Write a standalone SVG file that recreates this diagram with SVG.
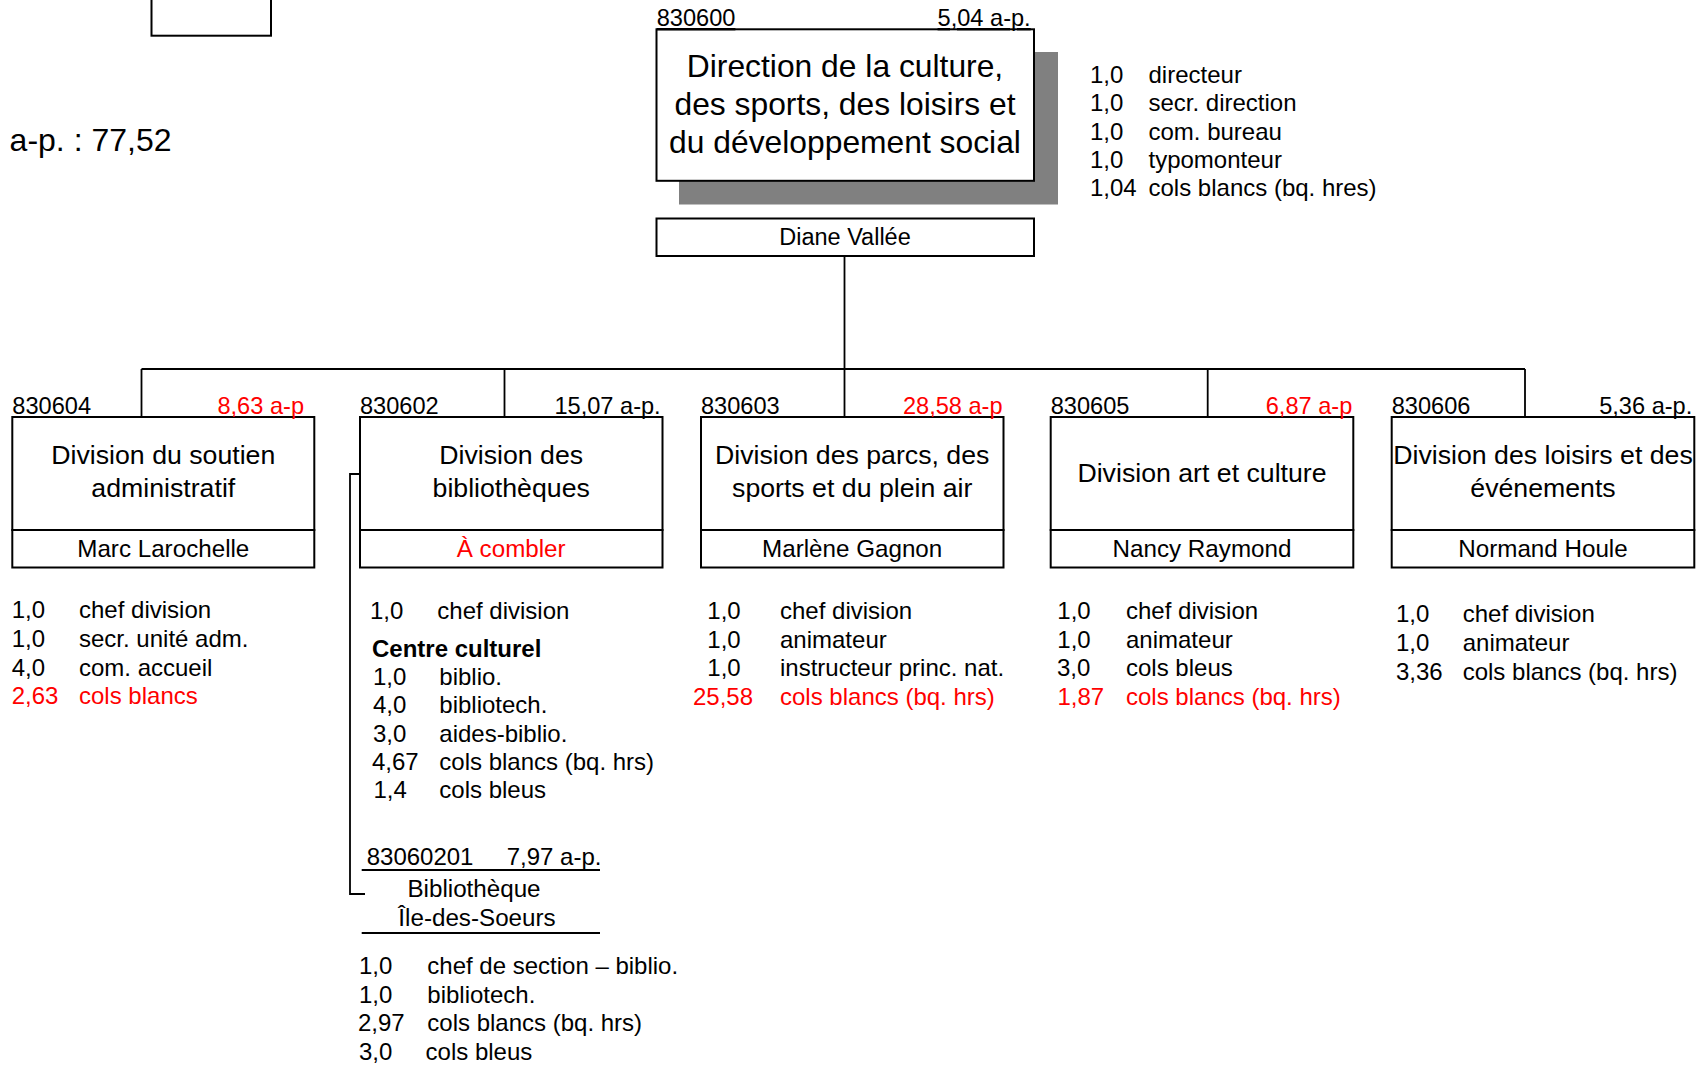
<svg xmlns="http://www.w3.org/2000/svg" width="1707" height="1065" viewBox="0 0 1707 1065">
<style>
text{font-family:"Liberation Sans",Arial,sans-serif;fill:#000;}
.t{font-size:24px;}
.lbl{font-size:23.6px;}
.ttl{font-size:26.7px;text-anchor:middle;}
.nm{font-size:24.2px;text-anchor:middle;}
.red{fill:#ff0000;}
.r{text-anchor:end;}
.box{fill:#fff;stroke:#000;stroke-width:2;}
.ln{fill:none;stroke:#000;stroke-width:1.8;}
.b{font-weight:bold;}
</style>
<rect fill="#fff" x="0" y="0" width="1707" height="1065"/>
<rect class="box" x="151.5" y="-10" width="119.5" height="45.7"/>
<text x="9.6" y="151" style="font-size:32px">a-p. : 77,52</text>

<g id="connectors">
<path class="ln" d="M844.5 256 V369 M141.5 369 H1525 M141.5 369 V417 M504.5 369 V417 M844.5 369 V417 M1207.7 369 V417 M1525 369 V417"/>
<path class="ln" d="M360 474 H350 V894 H365"/>
</g>

<g id="n830600">
<rect fill="#808080" x="679" y="52" width="379" height="152.5"/>
<rect class="box" x="656.5" y="29.3" width="377.5" height="151.5"/>
<text class="lbl" x="656.7" y="26" text-decoration="underline">830600</text>
<text class="lbl r" x="1030.7" y="26" text-decoration="underline">5,04 a-p.</text>
<text style="font-size:31.8px;text-anchor:middle" x="845" y="77">Direction de la culture,</text>
<text style="font-size:31.8px;text-anchor:middle" x="845" y="115">des sports, des loisirs et</text>
<text style="font-size:31.8px;text-anchor:middle" x="845" y="153">du développement social</text>
<rect class="box" x="656.5" y="218.5" width="377.5" height="37.5"/>
<text class="nm" x="845" y="245" style="font-size:23.5px">Diane Vallée</text>
<text class="t" x="1090" y="83">1,0</text><text class="t" x="1148.5" y="83">directeur</text>
<text class="t" x="1090" y="111">1,0</text><text class="t" x="1148.5" y="111">secr. direction</text>
<text class="t" x="1090" y="139.5">1,0</text><text class="t" x="1148.5" y="139.5">com. bureau</text>
<text class="t" x="1090" y="167.5">1,0</text><text class="t" x="1148.5" y="167.5">typomonteur</text>
<text class="t" x="1090" y="196">1,04</text><text class="t" x="1148.5" y="196">cols blancs (bq. hres)</text>
</g>

<g id="n830604">
<rect class="box" x="12.3" y="417" width="302" height="113"/>
<rect class="box" x="12.3" y="530" width="302" height="37.5"/>
<text class="lbl" x="12.3" y="413.5">830604</text>
<text class="lbl r red" x="304" y="413.5">8,63 a-p</text>
<text class="ttl" x="163.3" y="464.3">Division du soutien</text>
<text class="ttl" x="163.3" y="496.7">administratif</text>
<text class="nm" x="163.3" y="556.5">Marc Larochelle</text>
<text class="t" x="11.7" y="618">1,0</text><text class="t" x="79" y="618">chef division</text>
<text class="t" x="11.7" y="647">1,0</text><text class="t" x="79" y="647">secr. unité adm.</text>
<text class="t" x="11.7" y="675.5">4,0</text><text class="t" x="79" y="675.5">com. accueil</text>
<text class="t red" x="11.7" y="704">2,63</text><text class="t red" x="79" y="704">cols blancs</text>
</g>

<g id="n830602">
<rect class="box" x="360" y="417" width="302.5" height="113"/>
<rect class="box" x="360" y="530" width="302.5" height="37.5"/>
<text class="lbl" x="360" y="413.5">830602</text>
<text class="lbl r" x="660.7" y="413.5">15,07 a-p.</text>
<text class="ttl" x="511.2" y="464.3">Division des</text>
<text class="ttl" x="511.2" y="496.7">bibliothèques</text>
<text class="nm red" x="511.2" y="556.5">À combler</text>
<text class="t" x="370" y="618.5">1,0</text><text class="t" x="437.3" y="618.5">chef division</text>
<text class="t b" x="372" y="656.5">Centre culturel</text>
<text class="t" x="373" y="685">1,0</text><text class="t" x="439.3" y="685">biblio.</text>
<text class="t" x="373" y="713">4,0</text><text class="t" x="439.3" y="713">bibliotech.</text>
<text class="t" x="373" y="741.5">3,0</text><text class="t" x="439.3" y="741.5">aides-biblio.</text>
<text class="t" x="372" y="770">4,67</text><text class="t" x="439.3" y="770">cols blancs (bq. hrs)</text>
<text class="t" x="373.5" y="798">1,4</text><text class="t" x="439.3" y="798">cols bleus</text>
</g>

<g id="n83060201">
<text class="t" x="366.7" y="865">83060201</text>
<text class="t" x="506.7" y="865">7,97 a-p.</text>
<line class="ln" x1="361.7" y1="870" x2="600" y2="870"/>
<text class="nm" x="474" y="896.5">Bibliothèque</text>
<text class="nm" x="477" y="925.5">Île-des-Soeurs</text>
<line class="ln" x1="361.7" y1="933" x2="600" y2="933"/>
<text class="t" x="359" y="974">1,0</text><text class="t" x="427.3" y="974">chef de section – biblio.</text>
<text class="t" x="359" y="1002.5">1,0</text><text class="t" x="427.3" y="1002.5">bibliotech.</text>
<text class="t" x="358" y="1031">2,97</text><text class="t" x="427.3" y="1031">cols blancs (bq. hrs)</text>
<text class="t" x="359" y="1060">3,0</text><text class="t" x="425.6" y="1060">cols bleus</text>
</g>

<g id="n830603">
<rect class="box" x="701" y="417" width="302.5" height="113"/>
<rect class="box" x="701" y="530" width="302.5" height="37.5"/>
<text class="lbl" x="701" y="413.5">830603</text>
<text class="lbl r red" x="1002.6" y="413.5">28,58 a-p</text>
<text class="ttl" x="852.2" y="464.3">Division des parcs, des</text>
<text class="ttl" x="852.2" y="496.7">sports et du plein air</text>
<text class="nm" x="852.2" y="556.5">Marlène Gagnon</text>
<text class="t" x="707.3" y="618.5">1,0</text><text class="t" x="780" y="618.5">chef division</text>
<text class="t" x="707.3" y="647.5">1,0</text><text class="t" x="780" y="647.5">animateur</text>
<text class="t" x="707.3" y="676">1,0</text><text class="t" x="780" y="676">instructeur princ. nat.</text>
<text class="t red" x="693" y="704.5">25,58</text><text class="t red" x="780" y="704.5">cols blancs (bq. hrs)</text>
</g>

<g id="n830605">
<rect class="box" x="1050.7" y="417" width="302.6" height="113"/>
<rect class="box" x="1050.7" y="530" width="302.6" height="37.5"/>
<text class="lbl" x="1050.7" y="413.5">830605</text>
<text class="lbl r red" x="1352.3" y="413.5">6,87 a-p</text>
<text class="ttl" x="1202" y="482">Division art et culture</text>
<text class="nm" x="1202" y="556.5">Nancy Raymond</text>
<text class="t" x="1057.3" y="618.5">1,0</text><text class="t" x="1126" y="618.5">chef division</text>
<text class="t" x="1057.3" y="647.5">1,0</text><text class="t" x="1126" y="647.5">animateur</text>
<text class="t" x="1057" y="676">3,0</text><text class="t" x="1126" y="676">cols bleus</text>
<text class="t red" x="1057.5" y="704.5">1,87</text><text class="t red" x="1126" y="704.5">cols blancs (bq. hrs)</text>
</g>

<g id="n830606">
<rect class="box" x="1391.7" y="417" width="302.6" height="113"/>
<rect class="box" x="1391.7" y="530" width="302.6" height="37.5"/>
<text class="lbl" x="1391.7" y="413.5">830606</text>
<text class="lbl r" x="1692.3" y="413.5">5,36 a-p.</text>
<text class="ttl" x="1543" y="464.3">Division des loisirs et des</text>
<text class="ttl" x="1543" y="496.7">événements</text>
<text class="nm" x="1543" y="556.5">Normand Houle</text>
<text class="t" x="1396" y="622">1,0</text><text class="t" x="1462.7" y="622">chef division</text>
<text class="t" x="1396" y="651">1,0</text><text class="t" x="1462.7" y="651">animateur</text>
<text class="t" x="1396" y="680">3,36</text><text class="t" x="1462.7" y="680">cols blancs (bq. hrs)</text>
</g>
</svg>
